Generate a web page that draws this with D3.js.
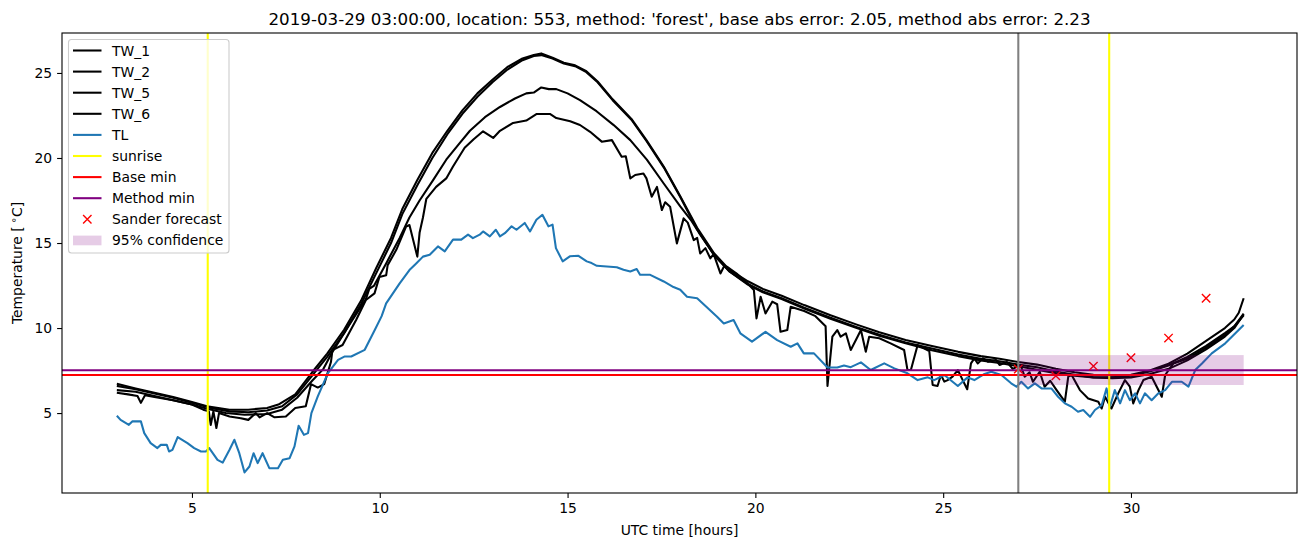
<!DOCTYPE html>
<html><head><meta charset="utf-8">
<script src="https://cdn.jsdelivr.net/npm/d3@7"></script>
<style>body{margin:0;background:#fff;} svg text{font-family:"DejaVu Sans",sans-serif;fill:#000;}</style>
</head><body><svg id="chart" width="1310" height="547"></svg>
<script>
// ---- data (hour, temperature) ----
const tw1 = [[3.0,6.72],[3.5,6.45],[4.0,6.2],[4.5,5.95],[5.0,5.65],[5.4,5.4],[6.0,5.2],[6.5,5.2],[7.0,5.3],[7.3,5.5],[7.75,6.1],[8.2,7.4],[8.6,8.5],[9.05,9.9],[9.5,11.6],[9.9,13.5],[10.3,15.3],[10.6,17.0],[11.0,18.7],[11.4,20.3],[11.8,21.6],[12.2,22.8],[12.6,23.8],[13.0,24.6],[13.4,25.35],[13.8,25.85],[14.1,26.05],[14.3,26.15],[14.6,25.9],[14.9,25.6],[15.2,25.45],[15.5,25.1],[15.8,24.5],[16.2,23.45],[16.7,22.3],[17.1,21.05],[17.56,19.5],[18.0,17.75],[18.45,15.9],[18.9,14.4],[19.3,13.45],[19.8,12.75],[20.2,12.3],[20.7,11.9],[21.3,11.35],[22.0,10.75],[22.7,10.2],[23.3,9.75],[24.0,9.3],[24.7,8.95],[25.4,8.6],[26.0,8.35],[26.5,8.2],[27.0,8.0],[27.5,7.85],[28.0,7.6],[28.5,7.4],[29.0,7.25],[29.5,7.2],[30.0,7.25],[30.5,7.5],[31.0,7.9],[31.5,8.5],[32.0,9.25],[32.5,10.0],[32.75,10.5],[32.87,10.9],[33.0,11.75]];
const tw2 = [[3.0,6.6],[3.5,6.4],[4.0,6.15],[4.5,5.9],[5.0,5.6],[5.5,5.3],[6.0,5.1],[6.5,5.05],[7.0,5.15],[7.4,5.4],[7.8,6.1],[8.2,7.2],[8.6,8.3],[9.05,9.7],[9.5,11.4],[9.9,13.2],[10.3,15.0],[10.6,16.7],[11.0,18.4],[11.4,20.0],[11.8,21.4],[12.2,22.6],[12.6,23.6],[13.0,24.45],[13.4,25.2],[13.8,25.75],[14.1,26.0],[14.3,26.05],[14.6,25.85],[14.9,25.55],[15.2,25.4],[15.5,25.05],[15.8,24.45],[16.2,23.4],[16.7,22.25],[17.1,21.0],[17.56,19.45],[18.0,17.7],[18.45,15.8],[18.9,14.3],[19.3,13.35],[19.8,12.6],[20.2,12.15],[20.7,11.75],[21.3,11.2],[22.0,10.6],[22.7,10.05],[23.3,9.6],[24.0,9.15],[24.7,8.8],[25.4,8.45],[26.0,8.2],[26.5,8.05],[27.0,7.85],[27.5,7.7],[28.0,7.45],[28.5,7.25],[29.0,7.1],[29.5,7.1],[30.0,7.2],[30.5,7.45],[31.0,7.8],[31.5,8.3],[32.0,8.95],[32.5,9.7],[32.75,10.1],[33.0,10.85]];
const tw5 = [[3.0,6.35],[3.5,6.25],[4.0,6.0],[4.5,5.75],[5.0,5.5],[5.4,5.25],[5.9,5.0],[6.4,4.9],[7.0,4.95],[7.4,5.2],[7.8,5.9],[8.2,6.9],[8.5,7.6],[8.74,8.6],[9.19,10.2],[9.63,11.7],[9.72,12.3],[9.85,12.5],[10.17,13.8],[10.53,15.3],[10.79,16.5],[11.06,17.5],[11.42,18.7],[11.77,19.9],[12.1,20.8],[12.4,21.6],[12.8,22.4],[13.2,23.0],[13.6,23.5],[13.9,23.8],[14.1,23.85],[14.3,24.15],[14.5,24.05],[14.7,24.05],[15.0,23.8],[15.33,23.4],[15.77,22.75],[16.22,21.95],[16.67,21.05],[17.11,19.9],[17.56,18.5],[18.0,17.15],[18.3,16.3],[18.5,15.6],[18.9,14.3],[19.3,13.35],[19.8,12.55],[20.2,12.1],[20.7,11.7],[21.3,11.15],[22.0,10.55],[22.7,10.0],[23.3,9.55],[24.0,9.1],[24.7,8.7],[25.4,8.35],[26.0,8.1],[26.5,7.95],[27.0,7.75],[27.5,7.55],[28.0,7.35],[28.5,7.2],[29.0,7.1],[29.5,7.05],[30.0,7.1],[30.5,7.3],[31.0,7.6],[31.5,8.1],[32.0,8.75],[32.5,9.5],[32.75,10.0],[33.0,10.8]];
const tw6 = [[3.0,6.2],[3.3,6.1],[3.55,6.0],[3.64,5.6],[3.75,6.05],[4.0,5.95],[4.5,5.75],[5.0,5.5],[5.3,5.2],[5.45,5.1],[5.5,4.3],[5.57,5.1],[5.65,4.12],[5.72,5.0],[6.0,4.8],[6.3,4.7],[6.5,4.6],[6.7,5.0],[6.8,4.75],[7.0,5.0],[7.2,4.75],[7.5,4.8],[7.75,5.3],[8.03,5.4],[8.17,6.7],[8.35,6.5],[8.52,6.7],[8.7,8.0],[8.74,8.7],[9.01,9.0],[9.37,10.47],[9.63,11.65],[9.86,12.04],[9.99,13.0],[10.17,13.1],[10.21,13.7],[10.44,14.6],[10.7,15.96],[10.79,16.06],[11.0,14.2],[11.06,15.6],[11.15,16.5],[11.24,17.6],[11.5,18.3],[11.77,18.8],[11.95,19.5],[12.26,20.6],[12.5,21.1],[12.75,21.57],[13.02,21.18],[13.2,21.6],[13.55,22.06],[13.9,22.2],[14.18,22.59],[14.53,22.59],[14.7,22.35],[15.07,22.16],[15.33,21.94],[15.6,21.54],[15.91,20.96],[16.18,21.05],[16.44,20.07],[16.55,20.1],[16.67,18.8],[16.8,19.0],[17.02,19.09],[17.1,18.8],[17.24,17.72],[17.38,18.3],[17.51,16.94],[17.6,17.4],[17.73,17.13],[17.91,14.98],[18.09,16.45],[18.2,16.2],[18.36,15.17],[18.45,15.3],[18.53,14.39],[18.67,14.7],[18.8,14.1],[18.89,14.35],[19.07,13.21],[19.16,13.6],[19.25,13.6],[19.5,13.2],[19.8,12.6],[19.96,12.24],[20.03,10.57],[20.14,11.84],[20.27,10.86],[20.45,11.55],[20.58,11.4],[20.67,9.78],[20.85,9.88],[20.94,11.25],[21.3,11.0],[21.6,10.7],[21.87,10.1],[21.92,6.6],[22.05,9.49],[22.18,9.88],[22.27,9.49],[22.41,9.69],[22.54,8.71],[22.72,9.49],[22.81,9.88],[22.94,8.61],[23.03,9.49],[23.3,9.4],[23.6,9.1],[23.96,8.71],[24.05,7.53],[24.14,7.53],[24.32,9.0],[24.63,8.65],[24.72,6.65],[24.85,6.59],[24.94,7.24],[25.03,6.85],[25.12,6.94],[25.25,7.14],[25.39,7.53],[25.52,6.94],[25.64,6.4],[25.74,7.92],[25.83,8.22],[25.92,7.92],[26.06,8.22],[26.19,8.02],[26.41,8.12],[26.5,7.83],[26.7,8.0],[26.85,7.6],[27.06,7.82],[27.17,7.14],[27.3,7.4],[27.39,6.84],[27.57,7.43],[27.7,6.55],[27.85,6.9],[28.02,6.35],[28.24,5.67],[28.33,7.14],[28.42,7.24],[28.64,6.35],[28.86,5.86],[29.13,5.67],[29.22,5.27],[29.31,5.96],[29.48,5.27],[29.66,6.16],[29.84,6.94],[29.97,6.55],[30.06,5.57],[30.2,6.35],[30.33,6.94],[30.55,7.14],[30.82,5.96],[30.91,7.24],[31.13,7.92],[31.5,8.2],[32.0,8.85],[32.5,9.6],[32.75,10.1],[33.0,10.75]];
const tl = [[3.0,4.84],[3.1,4.6],[3.32,4.31],[3.41,4.51],[3.64,4.51],[3.73,3.82],[3.9,3.23],[4.08,2.94],[4.17,3.13],[4.33,3.13],[4.39,2.74],[4.48,2.84],[4.62,3.59],[4.88,3.23],[5.06,2.94],[5.24,2.74],[5.37,2.74],[5.46,2.94],[5.68,2.25],[5.82,2.09],[6.0,2.84],[6.13,3.43],[6.26,2.64],[6.4,1.51],[6.53,1.86],[6.64,2.64],[6.75,2.06],[6.88,2.64],[7.06,1.76],[7.29,1.76],[7.42,2.25],[7.6,2.35],[7.73,3.04],[7.84,4.25],[7.98,3.72],[8.09,3.82],[8.18,5.0],[8.35,5.98],[8.62,7.35],[8.89,8.13],[9.07,8.33],[9.24,8.33],[9.6,8.72],[9.87,9.9],[10.05,10.7],[10.17,11.45],[10.53,12.63],[10.79,13.41],[10.97,13.8],[11.15,14.2],[11.33,14.31],[11.55,14.8],[11.73,14.51],[11.95,15.2],[12.17,15.2],[12.35,15.49],[12.48,15.29],[12.66,15.49],[12.75,15.68],[12.93,15.39],[13.09,15.78],[13.2,15.39],[13.33,15.58],[13.51,15.98],[13.64,15.78],[13.86,16.18],[14.0,15.68],[14.17,16.37],[14.33,16.66],[14.49,15.98],[14.6,16.08],[14.69,14.7],[14.87,13.92],[15.06,14.22],[15.29,14.25],[15.51,13.92],[15.64,13.82],[15.78,13.66],[16.31,13.58],[16.49,13.43],[16.67,13.33],[16.84,13.47],[16.93,13.13],[17.2,13.13],[17.56,12.74],[17.82,12.41],[18.0,12.25],[18.18,11.84],[18.45,11.75],[18.98,10.67],[19.16,10.27],[19.42,10.47],[19.6,9.69],[19.91,9.2],[20.27,9.78],[20.58,9.29],[20.94,8.9],[21.12,9.1],[21.29,8.51],[21.56,8.51],[21.92,7.68],[22.18,7.68],[22.36,7.8],[22.54,7.7],[22.81,7.98],[23.07,7.53],[23.43,7.92],[23.7,7.63],[24.05,7.34],[24.32,6.94],[24.59,7.1],[24.76,6.94],[25.03,7.24],[25.39,6.59],[25.65,7.1],[25.83,6.94],[26.1,7.3],[26.28,7.43],[26.55,7.24],[26.81,6.75],[26.95,6.55],[27.08,6.84],[27.26,6.45],[27.44,6.75],[27.62,6.45],[27.88,6.45],[28.06,5.96],[28.24,5.57],[28.42,5.37],[28.59,5.08],[28.73,5.18],[28.91,4.78],[29.04,5.18],[29.22,5.47],[29.35,6.45],[29.44,5.37],[29.57,6.35],[29.71,5.57],[29.84,6.35],[29.97,5.76],[30.11,6.16],[30.24,5.57],[30.37,6.16],[30.55,5.76],[30.73,6.16],[30.91,6.35],[31.09,6.84],[31.35,6.84],[31.53,6.55],[31.71,7.53],[31.89,7.92],[32.15,8.51],[32.51,9.1],[33.0,10.18]];
const sunriseHours = [5.42, 29.42];
const forecastHour = 27.0;
const baseMin = 7.24;
const methodMin = 7.52;
const sanderHours = [27, 28, 29, 30, 31, 32];
const sanderTemps = [7.59, 7.19, 7.76, 8.25, 9.41, 11.75];
const confHours = [27.0, 33.0];
const confBounds = [6.65, 8.41];
const xTicks = [5, 10, 15, 20, 25, 30];
const yTicks = [5, 10, 15, 20, 25];
const xDomain = [1.54, 34.42];
const yDomain = [0.3, 27.35];
const titleText = "2019-03-29 03:00:00, location: 553, method: 'forest', base abs error: 2.05, method abs error: 2.23";

// ---- drawing ----
const L = 62, R = 1297, T = 33, B = 493;
const svg = d3.select("#chart");
const x = d3.scaleLinear().domain(xDomain).range([L, R]);
const y = d3.scaleLinear().domain(yDomain).range([B, T]);

svg.append("defs").append("clipPath").attr("id", "clip")
  .append("rect").attr("x", L).attr("y", T).attr("width", R - L).attr("height", B - T);
const plot = svg.append("g").attr("clip-path", "url(#clip)");

const line = d3.line().x(d => x(d[0])).y(d => y(d[1]));
const LW = 2.08;
[tw1, tw2, tw5, tw6].forEach(s => {
  plot.append("path").datum(s).attr("d", line).attr("fill", "none")
    .attr("stroke", "#000").attr("stroke-width", LW).attr("stroke-linejoin", "round");
});
plot.append("path").datum(tl).attr("d", line).attr("fill", "none")
  .attr("stroke", "#1f77b4").attr("stroke-width", LW).attr("stroke-linejoin", "round");

sunriseHours.forEach(h => {
  plot.append("line").attr("x1", x(h)).attr("x2", x(h)).attr("y1", T).attr("y2", B)
    .attr("stroke", "#ffff00").attr("stroke-width", LW);
});
plot.append("line").attr("x1", L).attr("x2", R).attr("y1", y(baseMin)).attr("y2", y(baseMin))
  .attr("stroke", "#ff0000").attr("stroke-width", LW);
plot.append("line").attr("x1", L).attr("x2", R).attr("y1", y(methodMin)).attr("y2", y(methodMin))
  .attr("stroke", "#800080").attr("stroke-width", LW);

const ms = 4.2;
sanderHours.forEach((h, i) => {
  const cx = x(h), cy = y(sanderTemps[i]);
  plot.append("path").attr("d", `M${cx-ms},${cy-ms}L${cx+ms},${cy+ms}M${cx-ms},${cy+ms}L${cx+ms},${cy-ms}`)
    .attr("stroke", "#ff0000").attr("stroke-width", 1.4).attr("fill", "none");
});

plot.append("rect").attr("x", x(confHours[0])).attr("width", x(confHours[1]) - x(confHours[0]))
  .attr("y", y(confBounds[1])).attr("height", y(confBounds[0]) - y(confBounds[1]))
  .attr("fill", "#800080").attr("fill-opacity", 0.2);

plot.append("line").attr("x1", x(forecastHour)).attr("x2", x(forecastHour)).attr("y1", T).attr("y2", B)
  .attr("stroke", "#808080").attr("stroke-width", LW);

// axes
const fs = 13.9;
const xAxis = svg.append("g").attr("transform", `translate(0,${B})`)
  .call(d3.axisBottom(x).tickValues(xTicks).tickSize(4.9).tickPadding(4.9).tickFormat(d3.format("d")));
const yAxis = svg.append("g").attr("transform", `translate(${L},0)`)
  .call(d3.axisLeft(y).tickValues(yTicks).tickSize(4.9).tickPadding(4.9).tickFormat(d3.format("d")));
[xAxis, yAxis].forEach(a => {
  a.select(".domain").remove();
  a.selectAll(".tick line").attr("stroke", "#000").attr("stroke-width", 1.1);
  a.selectAll(".tick text").attr("font-size", fs).attr("font-family", "DejaVu Sans").attr("fill", "#000");
});

svg.append("rect").attr("x", L).attr("y", T).attr("width", R - L).attr("height", B - T)
  .attr("fill", "none").attr("stroke", "#000").attr("stroke-width", 1.1);

svg.append("text").attr("x", (L + R) / 2).attr("y", 24.5).attr("text-anchor", "middle")
  .attr("font-size", 16.7).text(titleText);
svg.append("text").attr("x", (L + R) / 2).attr("y", 535).attr("text-anchor", "middle")
  .attr("font-size", fs).text("UTC time [hours]");
const yl = svg.append("text").attr("transform", `translate(22,${(T + B) / 2}) rotate(-90)`)
  .attr("text-anchor", "middle").attr("font-size", fs);
yl.append("tspan").text("Temperature [");
yl.append("tspan").attr("dx", 3).attr("dy", -5).attr("font-size", 10).text("\u2218");
yl.append("tspan").attr("dy", 5).text("C]");

// legend
const legendItems = [
  {label: "TW_1", type: "line", color: "#000"},
  {label: "TW_2", type: "line", color: "#000"},
  {label: "TW_5", type: "line", color: "#000"},
  {label: "TW_6", type: "line", color: "#000"},
  {label: "TL", type: "line", color: "#1f77b4"},
  {label: "sunrise", type: "line", color: "#ffff00"},
  {label: "Base min", type: "line", color: "#ff0000"},
  {label: "Method min", type: "line", color: "#800080"},
  {label: "Sander forecast", type: "x", color: "#ff0000"},
  {label: "95% confidence", type: "patch", color: "#800080"}
];
const lg = svg.append("g");
lg.append("rect").attr("x", 68.5).attr("y", 39.5).attr("width", 160.5).attr("height", 213.5).attr("rx", 3)
  .attr("fill", "#fff").attr("fill-opacity", 0.8).attr("stroke", "#cccccc").attr("stroke-width", 1.1);
legendItems.forEach((it, i) => {
  const cy = 50.5 + i * 21.1;
  if (it.type === "line") {
    lg.append("line").attr("x1", 73).attr("x2", 101.5).attr("y1", cy).attr("y2", cy)
      .attr("stroke", it.color).attr("stroke-width", LW);
  } else if (it.type === "x") {
    const cx = 87.3;
    lg.append("path").attr("d", `M${cx-ms},${cy-ms}L${cx+ms},${cy+ms}M${cx-ms},${cy+ms}L${cx+ms},${cy-ms}`)
      .attr("stroke", it.color).attr("stroke-width", 1.4);
  } else {
    lg.append("rect").attr("x", 73).attr("y", cy - 4.8).attr("width", 28.5).attr("height", 9.7)
      .attr("fill", it.color).attr("fill-opacity", 0.2);
  }
  lg.append("text").attr("x", 112).attr("y", cy).attr("dy", "0.36em").attr("font-size", fs).text(it.label);
});
</script></body></html>
